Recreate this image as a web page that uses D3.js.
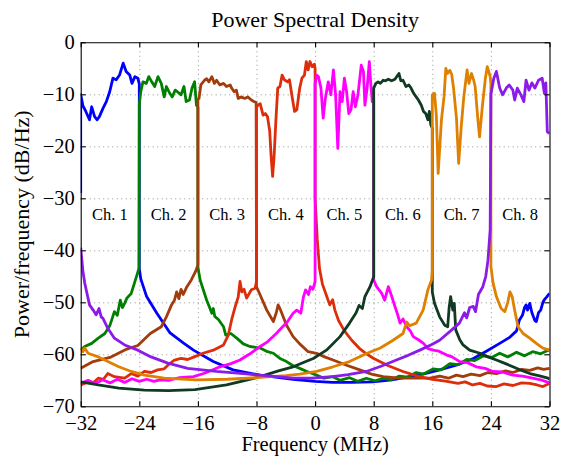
<!DOCTYPE html>
<html><head><meta charset="utf-8">
<script src="https://cdn.jsdelivr.net/npm/d3@7"></script>
<style>body{margin:0;background:#fff}</style>
</head><body><svg id="c" width="568" height="456"></svg>
<script>
const xTicks=[-32,-24,-16,-8,0,8,16,24,32];
const yTicks=[-70,-60,-50,-40,-30,-20,-10,0];
const channelLabels=["Ch. 1","Ch. 2","Ch. 3","Ch. 4","Ch. 5","Ch. 6","Ch. 7","Ch. 8"];
const channelCenters=[-28,-20,-12,-4,4,12,20,28];
const colors=["#0000ff","#008000","#a33c0c","#dc2e0a","#ff00ff","#113a22","#e08000","#8b1be8"];

const ch1=[[-32,-29],[-32,-10],[-31.7,-12.2],[-31.3,-13.3],[-30.8,-14.9],[-30.5,-12.4],[-30.1,-14.3],[-29.75,-14.9],[-29.45,-14.3],[-28.96,-12.7],[-28.5,-11.4],[-28.04,-9.5],[-27.6,-6.9],[-27.15,-7.2],[-26.7,-6.3],[-26.2,-4.0],[-25.8,-5.6],[-25.3,-6.3],[-25.0,-7.9],[-24.6,-6.6],[-24.2,-6.9],[-24.0,-8],[-24.0,-43.5],
[-23.8,-45.5],[-23.0,-48.9],[-21.6,-52.1],[-19.8,-55.9],[-18,-57.8],[-16.6,-59.2],[-13.9,-61.4],[-11.2,-63],[-7.5,-64],[-3,-64.8],[0,-65.2],[2.4,-65.4],[5,-65.4],[7.9,-65.3],[10.5,-64.9],[12.9,-64.3],[15,-63.7],[17,-63],[19.5,-62],[21.6,-60.8],[23.5,-59.3],[25.2,-57.9],[26.5,-56.8],[27.5,-55.5],[27.9,-53.4],[28.3,-52.5],[28.6,-51],[28.8,-50.5],[29.0,-51.5],[29.3,-50.2],[29.6,-52],[30.0,-53.5],[30.2,-53.7],[30.5,-52],[30.8,-51.5],[31.1,-50],[31.3,-49.5],[31.6,-49],[32,-48.3]];

const ch2=[[-32,-59.2],[-31.45,-58.5],[-30.5,-57.9],[-29.6,-56.9],[-28.7,-56],[-28.0,-54.4],[-27.4,-51.8],[-27.0,-52.5],[-26.6,-49.6],[-26.3,-51],[-26.0,-50.2],[-25.7,-49.2],[-25.1,-48.3],[-24.4,-45.1],[-24.05,-43.5],[-24.0,-12],
[-23.8,-9.5],[-23.5,-7.6],[-23.05,-7.9],[-22.7,-6.6],[-22.3,-7.6],[-21.9,-8.5],[-21.45,-6.6],[-21.0,-7.9],[-20.6,-10.5],[-20.3,-8.5],[-19.85,-9.8],[-19.5,-10.5],[-19.1,-9.2],[-18.8,-9.5],[-18.3,-10.1],[-17.9,-8.5],[-17.6,-11.4],[-17.15,-11.1],[-16.8,-8.8],[-16.45,-7.6],[-16.2,-12.1],[-16.0,-12.5],[-16.0,-43.2],
[-15.7,-45.7],[-14.8,-49.6],[-14.4,-51],[-14.1,-52.1],[-13.9,-51.2],[-13.7,-52.7],[-13.2,-53.3],[-12.5,-54.7],[-12.2,-56.3],[-11.5,-56],[-10.7,-56.9],[-9.8,-58],[-8.9,-58.5],[-7.5,-58.8],[-6.5,-59.5],[-5.7,-59.8],[-4.8,-60.8],[-3.9,-61.4],[-3,-62.2],[-2.1,-62.7],[-1.1,-63.3],[0.2,-64],[1.2,-64.6],[2.4,-64.3],[3.4,-65],[4.7,-64.5],[5.8,-65.2],[7,-64.6],[8.2,-65.1],[9.3,-64.6],[10.4,-64.9],[11.5,-64.2],[12.6,-64.4],[13.8,-63.5],[14.8,-63.8],[16.1,-62.8],[17.2,-63],[18.4,-61.8],[19.5,-62],[20.7,-61],[21.8,-61.2],[23.0,-60.3],[24.1,-60.6],[25.2,-59.8],[26.3,-60.5],[27.5,-59.6],[28.6,-60.3],[29.7,-59.5],[30.8,-59.9],[31.8,-59.2],[32,-59.3]];

const ch3=[[-32,-62.7],[-30.3,-61.4],[-28,-60.6],[-25.7,-59],[-24.2,-58.3],[-22.5,-56],[-21.0,-54.7],[-20.3,-52.8],[-19.6,-50.5],[-19.2,-49.6],[-18.9,-48],[-18.6,-49.3],[-18.3,-47.5],[-18.0,-48.5],[-17.5,-47],[-16.9,-45.7],[-16.3,-44],[-16.0,-42.8],[-16.0,-11],
[-15.85,-10.8],[-15.6,-8.2],[-15.1,-7.3],[-14.8,-7.0],[-14.5,-7.6],[-14.1,-6.6],[-13.75,-7.9],[-13.45,-7.3],[-13.0,-8.2],[-12.5,-7.9],[-12.1,-8.5],[-11.6,-8.2],[-11.4,-8.8],[-11.05,-9.5],[-10.75,-9.2],[-10.5,-10.8],[-10.1,-10.5],[-9.6,-10.8],[-9.2,-10.5],[-8.7,-11.1],[-8.35,-11.4],[-8.05,-11.6],[-8.0,-47],
[-7.5,-48.6],[-6.6,-51.5],[-5.7,-53.7],[-5.3,-52],[-5.05,-50.5],[-4.8,-51.2],[-4.6,-51.9],[-3.9,-54.4],[-3.0,-56.6],[-2.1,-58.0],[-0.95,-59.5],[0.2,-59.8],[1.3,-60.5],[2.45,-61.1],[4.3,-62.1],[6.1,-63],[7.7,-63.8],[9.3,-64.3],[11.5,-64.6],[13.8,-64.6],[15.7,-64.6],[17.0,-64.2],[18.2,-64.6],[19.3,-64.0],[20.2,-64.3],[21.3,-63.8],[22.5,-64.1],[23.6,-63.5],[24.75,-63.7],[26,-63.2],[27,-63.5],[28.2,-62.9],[29.3,-63.1],[30.4,-62.6],[31.2,-62.9],[32,-62.7]];

const ch4=[[-32,-65.9],[-31,-65.3],[-30.3,-65.5],[-29.6,-64.6],[-28.9,-64.8],[-28.3,-63.7],[-27.4,-64.3],[-26.0,-64.6],[-25.1,-63.7],[-24.2,-64.2],[-23.3,-63.3],[-22.4,-63.5],[-21.5,-63],[-20.6,-62.8],[-20.1,-62.1],[-19.2,-61.1],[-18.3,-60.8],[-17.4,-61],[-16.5,-60.5],[-15.3,-59.8],[-13.9,-59.2],[-12.5,-58.2],[-11.85,-56.3],[-11.4,-53.4],[-10.9,-50.8],[-10.5,-49],[-10.25,-46],[-10.0,-48],[-9.7,-47.5],[-9.35,-49.2],[-8.7,-47.6],[-8.2,-47.3],[-8.0,-46],[-8.0,-12.4],
[-7.8,-12.1],[-7.5,-11.8],[-7.1,-14.0],[-6.8,-13.7],[-6.5,-14.3],[-6.2,-17],[-6.0,-22],[-5.8,-25.8],[-5.6,-22],[-5.35,-15],[-5.1,-8.8],[-4.8,-8.5],[-4.5,-6.3],[-4.2,-7.2],[-3.75,-7.6],[-3.5,-7.2],[-3.1,-10.8],[-2.8,-13.3],[-2.5,-13.0],[-2.1,-8.8],[-1.8,-6.9],[-1.45,-6.3],[-1.2,-3.7],[-0.95,-5.3],[-0.7,-3.7],[-0.4,-4.7],[-0.1,-4.2],[0.0,-5],
[0.0,-30],[0.3,-38],[0.6,-43.5],[1.0,-46.5],[1.5,-48.5],[2.0,-50.5],[2.4,-49.5],[2.7,-51.5],[3.2,-53.5],[4,-55.5],[5,-57.3],[6,-58.8],[7,-59.9],[8,-60.8],[10,-62.2],[12,-63.3],[14,-64.2],[16,-64.8],[18,-65.2],[19.5,-65.6],[20.5,-65.3],[21.5,-65.9],[22.5,-65.6],[23.5,-66.1],[24.75,-66.2],[25.8,-65.7],[27,-66],[28.2,-65.5],[29.3,-65.6],[30.3,-65.9],[31.1,-66.2],[32,-65.6]];

const ch5=[[-32,-65.6],[-31,-65],[-30,-65.6],[-29,-64.9],[-28,-65.5],[-27,-64.8],[-26,-65.4],[-25,-64.7],[-24,-65.2],[-23,-64.8],[-22,-65.2],[-21.2,-64.9],[-20,-65],[-18.5,-64.5],[-16.6,-64.3],[-15,-63.6],[-13,-62.4],[-11.5,-61.8],[-10.25,-61.1],[-9,-60],[-7.5,-58.5],[-6.5,-57.6],[-5.3,-56],[-4.5,-54.8],[-3.8,-53.8],[-3,-52.1],[-2.5,-51.5],[-1.95,-52.1],[-1.6,-49],[-1.3,-47.6],[-0.9,-48.5],[-0.65,-47],[-0.3,-47.5],[0,-46],[0,-8],
[0.2,-6.3],[0.45,-6.6],[0.8,-8.8],[1.1,-14.6],[1.4,-10.8],[1.8,-7.6],[2.15,-10.1],[2.5,-5.3],[2.8,-10.1],[3.1,-20.4],[3.4,-9.5],[3.7,-11.4],[4.0,-6.9],[4.3,-9.5],[4.6,-13.7],[4.9,-13.0],[5.2,-9.5],[5.5,-12.4],[5.85,-10.1],[6.3,-4.4],[6.6,-5.6],[6.8,-12.1],[7.1,-8.8],[7.4,-3.7],[7.6,-7.9],[7.8,-11.4],[8.0,-11],
[8.0,-45.7],[8.4,-47],[9.1,-48.3],[9.5,-49.6],[10.0,-47],[10.4,-48.6],[10.9,-50.8],[11.3,-52.5],[11.6,-54],[12,-53.2],[12.5,-54.7],[13,-55.5],[13.4,-56.6],[14.1,-57.2],[14.8,-57.9],[15.4,-58.9],[16.1,-59.2],[16.9,-59.4],[17.9,-60.1],[18.7,-60.5],[19.75,-61.4],[20.8,-61.6],[22.0,-62.4],[23.2,-62.7],[24.3,-63.3],[25.5,-63.4],[27.0,-64],[28.3,-64.2],[29.7,-64.6],[30.8,-64.9],[31.8,-65.4],[32,-65.6]];

const ch6=[[-32,-65.3],[-29.6,-65.9],[-26.8,-66.5],[-23.3,-66.9],[-20,-67],[-16.4,-66.8],[-12.1,-65.9],[-9.5,-65],[-7.5,-64.3],[-5,-63.2],[-3,-62.4],[-1.1,-61.3],[-0.25,-60.8],[1.55,-59.2],[3.4,-56.6],[4.7,-54],[5.6,-52],[6.0,-50.6],[6.45,-51.2],[6.8,-48.9],[7.5,-47],[8.0,-45.1],[8.0,-8.8],
[8.3,-7.9],[8.6,-7.6],[8.9,-7.9],[9.3,-7.3],[9.6,-7.4],[10.0,-7.1],[10.45,-7.4],[10.9,-7.1],[11.3,-6.3],[11.45,-6.0],[11.7,-7.4],[12.0,-7.3],[12.4,-8.5],[12.8,-8.2],[13.1,-8.8],[13.45,-9.8],[13.8,-10.5],[14.1,-11.1],[14.5,-12.1],[14.8,-13.3],[15.1,-13.7],[15.4,-14.9],[15.6,-13.3],[15.8,-15.9],[16.0,-16.5],
[16.0,-48],[16.3,-50.2],[17.0,-52.8],[17.7,-54.4],[18.1,-54.7],[18.3,-51],[18.5,-48.9],[18.8,-51.5],[19.0,-50.2],[19.2,-55.3],[19.75,-57.2],[20.2,-58.2],[21.1,-59.2],[22.5,-59.8],[23.6,-60.5],[24.75,-61.1],[26,-61.8],[27.0,-62.4],[28.2,-63.1],[29.3,-63.7],[30.5,-64.1],[31.8,-64.6],[32,-64.8]];

const ch7=[[-32,-58.8],[-31.7,-59.5],[-31.45,-58.8],[-31,-59.8],[-29.6,-60.5],[-28.3,-61.4],[-26.8,-62.4],[-25.1,-63.3],[-23.3,-64],[-20.6,-64.6],[-16.2,-64.9],[-12,-64.8],[-8,-64.5],[-4,-64.1],[-2.1,-63.8],[0.2,-63.3],[2.45,-62.4],[4.7,-61.4],[7.1,-59.8],[8.9,-58.8],[10.65,-57.3],[12.0,-56],[12.5,-53.8],[12.9,-54.5],[13.8,-54],[14.75,-51.5],[15.4,-47.6],[15.9,-45.7],[16.0,-44],[16.0,-10.1],
[16.3,-9.8],[16.55,-14],[16.8,-25.2],[17.25,-14.9],[17.6,-10.5],[17.85,-5.0],[18.05,-6.0],[18.4,-5.4],[18.65,-6.2],[18.9,-8.8],[19.3,-14.6],[19.6,-23.3],[19.95,-16.2],[20.3,-10.5],[20.75,-5.3],[21.0,-7.9],[21.35,-6.0],[21.65,-7.3],[21.85,-8.5],[22.25,-15.3],[22.45,-18.2],[22.85,-12.1],[23.25,-6.9],[23.5,-4.7],[23.7,-5.6],[23.9,-6.6],[24.0,-8],
[24.0,-43.1],[24.3,-46.3],[24.75,-48.9],[25.4,-51.2],[25.9,-51.8],[26.3,-50],[26.6,-48],[26.9,-48.9],[27.2,-51.2],[27.7,-54.7],[28.4,-56],[29.3,-56.9],[30.2,-57.9],[31.1,-58.8],[32,-59.2]];

const ch8=[[-32,-39.5],[-31.7,-44],[-31.45,-46.3],[-30.8,-50.5],[-30.3,-51.5],[-29.9,-52.4],[-29.5,-51.2],[-29.2,-52.8],[-28.96,-53.1],[-28.3,-55],[-27.4,-56.9],[-26.0,-58.2],[-24.2,-59.2],[-22.4,-60.5],[-20.1,-61.7],[-17.4,-62.7],[-13.5,-63.3],[-9.8,-63.7],[-6,-64.2],[-3.0,-64.6],[-0.5,-64.6],[2.4,-64.3],[4.5,-63.9],[7.0,-63.3],[9,-62.3],[11.1,-61.1],[12.7,-60.2],[14.3,-59.2],[15.8,-58.2],[17.0,-57.3],[18.5,-55.5],[19.7,-54],[20.4,-52],[20.7,-53],[21.1,-51],[21.6,-50.8],[21.9,-51.8],[22.3,-48.5],[22.9,-47],[23.3,-45],[23.6,-41.9],[23.9,-36],[24.0,-10],
[24.4,-6.9],[24.75,-5.6],[25.2,-8.8],[25.6,-10.1],[26.1,-8.8],[26.5,-8.2],[27.0,-9.2],[27.25,-11.1],[27.6,-8.8],[28.1,-10.1],[28.5,-11.4],[28.8,-7.3],[29.2,-9.2],[29.6,-7.8],[30.0,-8.8],[30.5,-7.3],[31.0,-6.9],[31.3,-9.8],[31.5,-7.8],[31.7,-17.2],[32,-17.5]];

const series=[ch1,ch2,ch3,ch4,ch5,ch6,ch7,ch8];

const M={l:80.7,r:549.5,t:42.3,b:406.3};
const FONT="'Liberation Serif','Times New Roman',serif";
const svg=d3.select("#c");
const x=d3.scaleLinear().domain([-32,32]).range([M.l,M.r]);
const y=d3.scaleLinear().domain([-70,0]).range([M.b,M.t]);

// grid
const grid=svg.append("g").attr("stroke","#777").attr("stroke-width",0.8).attr("stroke-dasharray","1,3.5");
grid.selectAll("line.gx").data(xTicks.slice(1,-1)).join("line")
  .attr("x1",d=>x(d)+0.5).attr("x2",d=>x(d)+0.5).attr("y1",M.t).attr("y2",M.b);
grid.selectAll("line.gy").data(yTicks.slice(1,-1)).join("line")
  .attr("y1",d=>y(d)+0.5).attr("y2",d=>y(d)+0.5).attr("x1",M.l).attr("x2",M.r);

// lines
svg.append("clipPath").attr("id","clp").append("rect")
  .attr("x",M.l).attr("y",M.t).attr("width",M.r-M.l).attr("height",M.b-M.t);
const line=d3.line().x(d=>x(d[0])).y(d=>y(d[1]));
svg.append("g").attr("clip-path","url(#clp)").selectAll("path").data(series).join("path")
  .attr("d",line).attr("fill","none").attr("stroke",(d,i)=>colors[i])
  .attr("stroke-width",2.8).attr("stroke-linejoin","round");

// axes
const fmt=d3.format("d");
function style(g,fs){g.attr("font-family",FONT).attr("font-size",fs);
  g.selectAll("path,line").attr("stroke","#000").attr("stroke-width",1.1);
  g.selectAll("text").attr("fill","#000");}
svg.append("g").attr("transform",`translate(0,${M.b})`)
  .call(d3.axisBottom(x).tickValues(xTicks).tickFormat(fmt).tickSize(-5).tickSizeOuter(0).tickPadding(9))
  .call(g=>style(g,20.5));
svg.append("g").attr("transform",`translate(0,${M.t})`)
  .call(d3.axisTop(x).tickValues(xTicks).tickFormat("").tickSize(-5).tickSizeOuter(0))
  .call(g=>style(g,20.5));
svg.append("g").attr("transform",`translate(${M.l},0)`)
  .call(d3.axisLeft(y).tickValues(yTicks).tickFormat(fmt).tickSize(-5).tickSizeOuter(0).tickPadding(6))
  .call(g=>style(g,20.5));
svg.append("g").attr("transform",`translate(${M.r},0)`)
  .call(d3.axisRight(y).tickValues(yTicks).tickFormat("").tickSize(-5).tickSizeOuter(0))
  .call(g=>style(g,20.5));

// channel labels
svg.append("g").selectAll("text").data(channelLabels).join("text")
  .attr("x",(d,i)=>x(channelCenters[i])).attr("y",y(-34.2))
  .attr("text-anchor","middle").attr("font-family",FONT).attr("font-size",16.5).text(d=>d);

// titles
const cx=(M.l+M.r)/2;
svg.append("text").attr("x",cx).attr("y",27).attr("text-anchor","middle")
  .attr("font-family",FONT).attr("font-size",22).text("Power Spectral Density");
svg.append("text").attr("x",cx).attr("y",451).attr("text-anchor","middle")
  .attr("font-family",FONT).attr("font-size",20.5).text("Frequency (MHz)");
svg.append("text").attr("transform",`translate(29,${(M.t+M.b)/2}) rotate(-90)`).attr("text-anchor","middle")
  .attr("font-family",FONT).attr("font-size",22).text("Power/frequency (dB/Hz)");
</script></body></html>
